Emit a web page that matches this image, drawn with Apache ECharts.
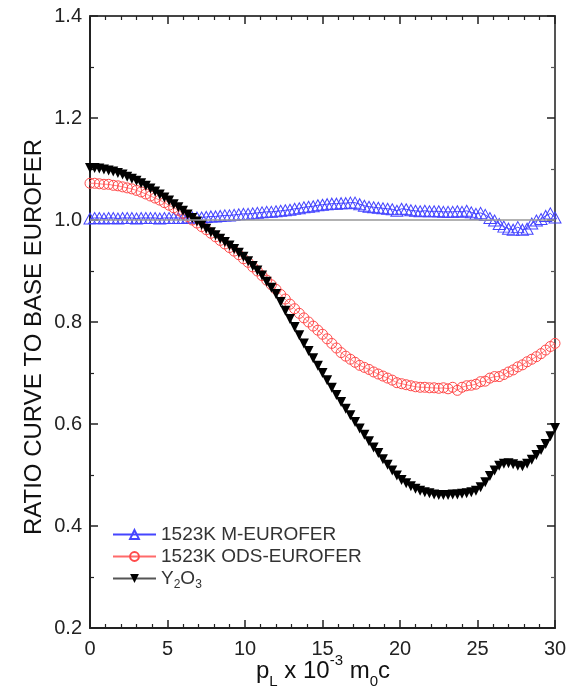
<!DOCTYPE html>
<html>
<head>
<meta charset="utf-8">
<script src="https://cdn.jsdelivr.net/npm/echarts@6/dist/echarts.min.js"></script>
<style>
  html, body { margin: 0; padding: 0; background: #fff; }
  #chart { width: 576px; height: 697px; }
</style>
</head>
<body>
<div id="chart"></div>
<script>
// momentum values p_L (x 10^-3 m0c)
var pL = [0, 0.3, 0.6, 0.9, 1.2, 1.5, 1.8, 2.1, 2.4, 2.7, 3, 3.3, 3.6, 3.9, 4.2, 4.5, 4.8, 5.1, 5.4, 5.7,
  6, 6.3, 6.6, 6.9, 7.2, 7.5, 7.8, 8.1, 8.4, 8.7, 9, 9.3, 9.6, 9.9, 10.2, 10.5, 10.8, 11.1, 11.4, 11.7,
  12, 12.3, 12.6, 12.9, 13.2, 13.5, 13.8, 14.1, 14.4, 14.7, 15, 15.3, 15.6, 15.9, 16.2, 16.5, 16.8, 17.1, 17.4, 17.7,
  18, 18.3, 18.6, 18.9, 19.2, 19.5, 19.8, 20.1, 20.4, 20.7, 21, 21.3, 21.6, 21.9, 22.2, 22.5, 22.8, 23.1, 23.4, 23.7,
  24, 24.3, 24.6, 24.9, 25.2, 25.5, 25.8, 26.1, 26.4, 26.7, 27, 27.3, 27.6, 27.9, 28.2, 28.5, 28.8, 29.1, 29.4, 29.7, 30];

// 1523K M-EUROFER
var mEurofer = [1.003, 1.004, 1.004, 1.003, 1.004, 1.004, 1.003, 1.004, 1.004, 1.004, 1.003, 1.004, 1.004, 1.004, 1.004, 1.003, 1.004, 1.004, 1.004, 1.004,
  1.004, 1.005, 1.005, 1.005, 1.005, 1.006, 1.007, 1.007, 1.008, 1.009, 1.009, 1.010, 1.011, 1.012, 1.012, 1.013, 1.014, 1.015, 1.016, 1.016,
  1.017, 1.018, 1.019, 1.020, 1.022, 1.023, 1.025, 1.026, 1.027, 1.029, 1.030, 1.031, 1.032, 1.032, 1.033, 1.033, 1.034, 1.034, 1.031, 1.028,
  1.026, 1.025, 1.024, 1.023, 1.022, 1.021, 1.018, 1.022, 1.021, 1.019, 1.018, 1.017, 1.018, 1.017, 1.017, 1.017, 1.016, 1.016, 1.016, 1.017,
  1.016, 1.018, 1.015, 1.012, 1.014, 1.010, 1.004, 0.999, 0.992, 0.987, 0.983, 0.981, 0.986, 0.981, 0.983, 0.993, 0.999, 1.002, 1.008, 1.013, 1.005];

// 1523K ODS-EUROFER
var odsEurofer = [1.072, 1.072, 1.071, 1.070, 1.070, 1.068, 1.067, 1.065, 1.063, 1.061, 1.058, 1.055, 1.051, 1.047, 1.043, 1.039, 1.034, 1.029, 1.024, 1.019,
  1.013, 1.007, 1.000, 0.994, 0.987, 0.981, 0.974, 0.967, 0.960, 0.953, 0.946, 0.939, 0.932, 0.924, 0.917, 0.908, 0.900, 0.891, 0.882, 0.873,
  0.864, 0.854, 0.845, 0.835, 0.826, 0.817, 0.808, 0.800, 0.792, 0.784, 0.776, 0.767, 0.758, 0.749, 0.740, 0.733, 0.727, 0.721, 0.715, 0.711,
  0.707, 0.702, 0.698, 0.694, 0.690, 0.686, 0.681, 0.679, 0.677, 0.675, 0.673, 0.672, 0.672, 0.671, 0.671, 0.670, 0.671, 0.669, 0.672, 0.666,
  0.672, 0.675, 0.676, 0.678, 0.683, 0.684, 0.690, 0.693, 0.693, 0.697, 0.702, 0.706, 0.712, 0.716, 0.722, 0.727, 0.732, 0.738, 0.745, 0.752, 0.758];

// Y2O3
var y2o3 = [1.102, 1.102, 1.101, 1.099, 1.097, 1.095, 1.092, 1.089, 1.085, 1.081, 1.077, 1.072, 1.067, 1.062, 1.056, 1.050, 1.044, 1.038, 1.031, 1.025,
  1.018, 1.011, 1.004, 0.997, 0.990, 0.983, 0.976, 0.970, 0.963, 0.957, 0.950, 0.943, 0.936, 0.928, 0.919, 0.910, 0.901, 0.891, 0.879, 0.867,
  0.855, 0.839, 0.822, 0.806, 0.790, 0.774, 0.758, 0.743, 0.729, 0.714, 0.700, 0.686, 0.671, 0.657, 0.643, 0.630, 0.617, 0.604, 0.591, 0.579,
  0.566, 0.554, 0.543, 0.531, 0.520, 0.509, 0.499, 0.490, 0.484, 0.478, 0.473, 0.469, 0.466, 0.464, 0.462, 0.461, 0.461, 0.461, 0.462, 0.462,
  0.463, 0.464, 0.466, 0.469, 0.476, 0.486, 0.498, 0.509, 0.518, 0.522, 0.523, 0.521, 0.518, 0.517, 0.522, 0.530, 0.539, 0.549, 0.561, 0.576, 0.592];

var xTicks = [0, 5, 10, 15, 20, 25, 30];
var yTicks = [0.2, 0.4, 0.6, 0.8, 1.0, 1.2, 1.4];

var FONT = "'Liberation Sans', Arial, sans-serif";

function pairs(ys) {
  return pL.map(function (x, i) { return [x, ys[i]]; });
}

var chart = echarts.init(document.getElementById("chart"), null, { renderer: "canvas" });

var tickInside = { show: true, inside: true, length: 8, lineStyle: { color: "#222", width: 1.5 } };
var minorInside = { show: true, splitNumber: 5, length: 4, lineStyle: { color: "#222", width: 1.2 } };

var option = {
  animation: false,
  backgroundColor: "#fff",
  grid: { left: 90, right: 21, top: 16, bottom: 69, containLabel: false },
  xAxis: [
    {
      type: "value",
      min: xTicks[0],
      max: xTicks[xTicks.length - 1],
      interval: 5,
      axisLine: { show: true, onZero: false, lineStyle: { color: "#222", width: 2 } },
      axisTick: tickInside,
      minorTick: minorInside,
      splitLine: { show: false },
      axisLabel: { fontSize: 20, color: "#222", fontFamily: FONT, margin: 11 },
    },
    {
      type: "value",
      position: "top",
      min: 0,
      max: 30,
      interval: 5,
      axisLine: { show: true, onZero: false, lineStyle: { color: "#444", width: 2 } },
      axisTick: tickInside,
      minorTick: minorInside,
      splitLine: { show: false },
      axisLabel: { show: false },
    },
  ],
  yAxis: [
    {
      type: "value",
      min: yTicks[0],
      max: yTicks[yTicks.length - 1],
      interval: 0.2,
      axisLine: { show: true, onZero: false, lineStyle: { color: "#222", width: 2 } },
      axisTick: tickInside,
      minorTick: { show: true, splitNumber: 2, length: 4, lineStyle: { color: "#222", width: 1.2 } },
      splitLine: { show: false },
      axisLabel: {
        fontSize: 20, color: "#222", fontFamily: FONT, margin: 8,
        formatter: function (v) { return v.toFixed(1); },
      },
    },
    {
      type: "value",
      position: "right",
      min: 0.2,
      max: 1.4,
      interval: 0.2,
      axisLine: { show: true, onZero: false, lineStyle: { color: "#555", width: 2 } },
      axisTick: tickInside,
      minorTick: { show: true, splitNumber: 2, length: 4, lineStyle: { color: "#555", width: 1.2 } },
      splitLine: { show: false },
      axisLabel: { show: false },
    },
  ],
  legend: {
    orient: "vertical",
    left: 112,
    top: 525,
    padding: 0,
    itemWidth: 43,
    itemHeight: 11,
    itemGap: 3,
    data: ["1523K M-EUROFER", "1523K ODS-EUROFER", "Y2O3"],
    formatter: function (name) {
      if (name === "Y2O3") return "{n|Y}{sub|2}{n|O}{sub|3}";
      return name;
    },
    textStyle: {
      fontSize: 19,
      color: "#333",
      fontFamily: FONT,
      rich: {
        n: { fontSize: 19, color: "#333", fontFamily: FONT, lineHeight: 20 },
        sub: { fontSize: 12, color: "#333", fontFamily: FONT, lineHeight: 25, verticalAlign: "bottom" },
      },
    },
  },
  graphic: [
    {
      type: "text",
      x: 34,
      y: 337,
      rotation: Math.PI / 2,
      style: {
        text: "RATIO CURVE TO BASE EUROFER",
        fill: "#111",
        fontSize: 24,
        fontFamily: FONT,
        align: "center",
        verticalAlign: "middle",
      },
    },
    {
      type: "text",
      x: 323,
      y: 671,
      style: {
        text: "{n|p}{sub|L}{n| x 10}{sup|-3}{n| m}{sub|0}{n|c}",
        fill: "#111",
        align: "center",
        verticalAlign: "middle",
        rich: {
          n: { fontSize: 24, fill: "#111", fontFamily: FONT, lineHeight: 30 },
          sub: { fontSize: 15, fill: "#111", fontFamily: FONT, lineHeight: 36, verticalAlign: "bottom" },
          sup: { fontSize: 15, fill: "#111", fontFamily: FONT, lineHeight: 36, verticalAlign: "top" },
        },
      },
    },
  ],
  series: [
    {
      name: "1523K M-EUROFER",
      type: "line",
      data: pairs(mEurofer),
      symbol: "triangle",
      symbolSize: [12, 11],
      showAllSymbol: true,
      itemStyle: { color: "rgba(0,0,0,0)", borderColor: "#4545ff", borderWidth: 1 },
      lineStyle: { color: "#4545ff", width: 1 },
      markLine: {
        silent: true,
        symbol: ["none", "none"],
        label: { show: false },
        lineStyle: { color: "#999", width: 1.5, type: "solid" },
        data: [{ yAxis: 1.0 }],
      },
      z: 2,
    },
    {
      name: "1523K ODS-EUROFER",
      type: "line",
      data: pairs(odsEurofer),
      symbol: "circle",
      symbolSize: 10,
      showAllSymbol: true,
      itemStyle: { color: "rgba(0,0,0,0)", borderColor: "#ff4a4a", borderWidth: 1 },
      lineStyle: { color: "#ff6a6a", width: 0.8 },
      z: 3,
    },
    {
      name: "Y2O3",
      type: "line",
      data: pairs(y2o3),
      symbol: "triangle",
      symbolRotate: 180,
      symbolSize: [10, 10],
      showAllSymbol: true,
      itemStyle: { color: "#000", borderColor: "#000", borderWidth: 0 },
      lineStyle: { color: "#555", width: 1 },
      z: 4,
    },
  ],
};

chart.setOption(option);
window.addEventListener("resize", chart.resize);
</script>
</body>
</html>
